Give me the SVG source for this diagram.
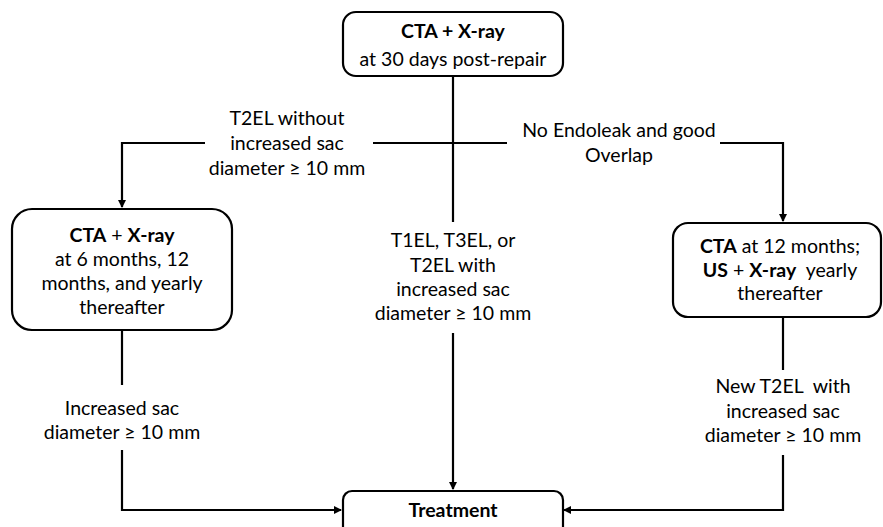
<svg xmlns="http://www.w3.org/2000/svg" width="883" height="527" viewBox="0 0 883 527">
<style>
.box{fill:#fff;stroke:#000;stroke-width:2.2}
.ln{fill:none;stroke:#000;stroke-width:2.2}
text{font-family:Lato,"Liberation Sans",sans-serif;font-size:19.5px;fill:#000;text-anchor:middle;white-space:pre}
.b{font-weight:bold}
</style>
<defs>
<marker id="ah" markerWidth="8" markerHeight="8" refX="7" refY="4" orient="auto" markerUnits="userSpaceOnUse">
<path d="M0,0 L8,4 L0,8 Z" fill="#000"/>
</marker>
</defs>
<rect width="883" height="527" fill="#fff"/>
<g id="connectors">
<path class="ln" d="M453,76 V222"/>
<path class="ln" d="M373,143 H507"/>
<path class="ln" d="M205,143 H122 V207" marker-end="url(#ah)"/>
<path class="ln" d="M720,143 H783 V221" marker-end="url(#ah)"/>
<path class="ln" d="M453,333 V489" marker-end="url(#ah)"/>
<path class="ln" d="M122,330 V385"/>
<path class="ln" d="M122,450 V510 H341" marker-end="url(#ah)"/>
<path class="ln" d="M783,317 V370"/>
<path class="ln" d="M783,455 V510 H564" marker-end="url(#ah)"/>
</g>
<g id="labels">
<text x="287" y="125">T2EL without</text>
<text x="287" y="150">increased sac</text>
<text x="287" y="175">diameter ≥ 10 mm</text>
<text x="619" y="137">No Endoleak and good</text>
<text x="619" y="162">Overlap</text>
<text x="453" y="247">T1EL, T3EL, or</text>
<text x="453" y="272">T2EL with</text>
<text x="453" y="296">increased sac</text>
<text x="453" y="320">diameter ≥ 10 mm</text>
<text x="122" y="415">Increased sac</text>
<text x="122" y="439">diameter ≥ 10 mm</text>
<text x="783" y="393">New T2EL  with</text>
<text x="783" y="418">increased sac</text>
<text x="783" y="442">diameter ≥ 10 mm</text>
</g>
<g id="node-top">
<rect class="box" x="343" y="12" width="220" height="64" rx="13"/>
<text x="453" y="38" class="b">CTA + X-ray</text>
<text x="453" y="66">at 30 days post-repair</text>
</g>
<g id="node-left">
<rect class="box" x="12" y="209" width="220" height="121" rx="20"/>
<text x="122" y="242"><tspan class="b">CTA</tspan> + <tspan class="b">X-ray</tspan></text>
<text x="122" y="266">at 6 months, 12</text>
<text x="122" y="290">months, and yearly</text>
<text x="122" y="314">thereafter</text>
</g>
<g id="node-right">
<rect class="box" x="673" y="223" width="208" height="94" rx="15"/>
<text x="780" y="253"><tspan class="b">CTA</tspan> at 12 months;</text>
<text x="780" y="277"><tspan class="b">US</tspan> + <tspan class="b">X-ray</tspan>  yearly</text>
<text x="780" y="300">thereafter</text>
</g>
<g id="node-treatment">
<rect class="box" x="343" y="491" width="220" height="50" rx="9"/>
<text x="453" y="517" class="b">Treatment</text>
</g>
</svg>
